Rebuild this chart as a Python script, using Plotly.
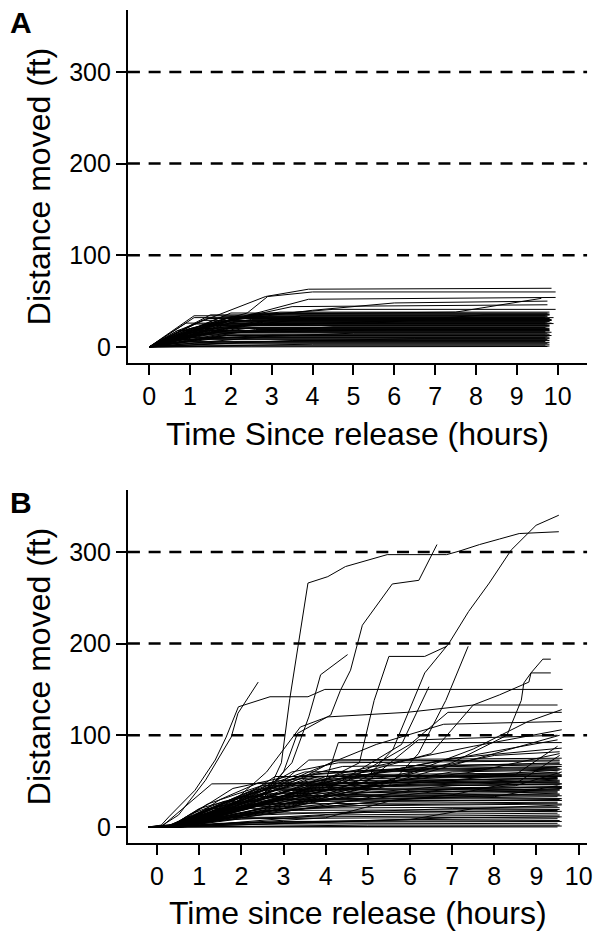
import plotly.graph_objects as go

FONT = "Arial, Liberation Sans, sans-serif"

# ---------------- Panel A data (hours, ft) ----------------
A_times = [
    [0, 0.71, 2.85, 3.9, 9.85], [0, 0.75, 2.4, 2.9, 4.0, 9.95], [0, 1.2, 3.9, 9.95],
    [0, 2.0, 3.0, 7.5, 9.6], [0, 1.8, 4.0, 6.0, 9.75], [0, 1.5, 3.5, 9.75],
    [0, 2.2, 4.5, 9.95], [0, 1.9, 3.2, 9.8], [0, 1.0, 2.6, 9.75], [0, 1.5, 9.8],
    [0, 0.9, 2.0, 9.75], [0, 1.4, 9.8], [0, 1.2, 2.5, 9.7], [0, 2.1, 9.8],
    [0, 1.6, 9.75], [0, 0.8, 3.0, 9.85], [0, 1.1, 9.7], [0, 2.3, 9.8], [0, 1.3, 9.75],
    [0, 0.9, 4.5, 9.8], [0, 1.7, 9.7], [0, 1.0, 9.8], [0, 2.6, 9.75], [0, 0.7, 9.8],
    [0, 1.5, 9.7], [0, 2.0, 9.85], [0, 0.8, 5.0, 9.75], [0, 1.2, 9.8], [0, 1.9, 9.7],
    [0, 0.6, 9.8], [0, 2.8, 9.75], [0, 1.0, 9.8], [0, 1.6, 9.7], [0, 0.5, 6.5, 9.8],
    [0, 1.3, 9.75], [0, 3.5, 9.8], [0, 0.9, 9.7], [0, 2.2, 9.8], [0, 1.1, 9.75],
    [0, 4.0, 9.8], [0, 0.8, 9.7], [0, 2.5, 9.8], [0, 9.75], [0, 1.8, 7.0, 9.8],
    [0, 2.4, 3.7, 9.7], [0, 1.0, 2.0, 9.85], [0, 0.7, 1.5, 9.75], [0, 1.2, 6.0, 9.8],
    [0, 1.4, 2.8, 9.7], [0, 0.6, 3.0, 9.8], [0, 1.1, 9.7], [0, 2.0, 9.75],
    [0, 1.8, 5.5, 8.2, 9.8], [0, 0.9, 2.5, 9.7], [0, 3.0, 9.85], [0, 1.8, 3.7],
    [0, 1.3, 2.4, 9.9], [0, 0.8, 1.9, 9.8],
    [0, 1.3, 9.85], [0, 0.9, 9.7], [0, 1.6, 9.8], [0, 2.2, 9.75], [0, 0.8, 9.8],
    [0, 1.4, 9.7], [0, 1.9, 9.85], [0, 1.1, 9.75], [0, 2.5, 9.8], [0, 0.7, 9.7],
    [0, 1.5, 4.0, 9.8], [0, 2.0, 9.9],
]
A_dist = [
    [0, 18, 55, 63, 64], [0, 17, 37, 55, 60, 60], [0, 20, 52, 54],
    [0, 30, 36, 38, 53], [0, 28, 40, 48, 50], [0, 25, 44, 46],
    [0, 33, 41, 41], [0, 31, 38, 38], [0, 20, 36, 36], [0, 35, 35],
    [0, 18, 33, 33], [0, 31, 31], [0, 20, 30, 30], [0, 28, 28],
    [0, 27, 27], [0, 14, 26, 26], [0, 25, 25], [0, 24, 24], [0, 23, 23],
    [0, 12, 22, 22], [0, 21, 21], [0, 20, 20], [0, 19, 19], [0, 18, 18],
    [0, 17, 17], [0, 16, 16], [0, 8, 15, 15], [0, 14, 14], [0, 13, 13],
    [0, 12, 12], [0, 11, 11], [0, 10, 10], [0, 9, 9], [0, 4, 9, 9],
    [0, 8, 8], [0, 7, 7], [0, 6, 6], [0, 5, 5], [0, 4, 4],
    [0, 3, 3], [0, 2, 2], [0, 1, 1], [0, 0.5], [0, 22, 30, 30],
    [0, 26, 34, 34], [0, 13, 29, 29], [0, 10, 24, 24], [0, 15, 19, 19],
    [0, 17, 27, 27], [0, 7, 13, 13], [0, 32, 32], [0, 37, 37],
    [0, 24, 26, 35, 35], [0, 11, 21, 21], [0, 30, 30], [0, 33, 33],
    [0, 22, 32, 32], [0, 15, 28, 28],
    [0, 29, 29], [0, 26, 26], [0, 23.5, 23.5], [0, 20.5, 20.5], [0, 17.5, 17.5],
    [0, 15.5, 15.5], [0, 12.5, 12.5], [0, 34, 34], [0, 36, 36], [0, 10.5, 10.5],
    [0, 20, 31, 31], [0, 25.5, 25.5],
]

# ---------------- Panel B data (hours, ft) ----------------
B_times = [
    [-0.2, 0.4, 1.2, 2.0, 2.7, 2.95, 3.15, 3.58, 4.05, 4.47, 5.46, 6.87, 7.18, 7.65, 8.12, 8.59, 9.53],
    [-0.2, 0.4, 1.5, 2.5, 3.0, 3.33, 4.12, 4.35, 4.59, 4.87, 5.58, 6.21, 6.64],
    [-0.2, 0.5, 1.5, 3.0, 4.0, 5.0, 5.6, 6.09, 6.35, 6.92, 7.39, 7.88, 8.4, 8.99, 9.53],
    [-0.2, 0.6, 2.0, 3.5, 4.8, 5.15, 5.5, 6.35, 6.87],
    [-0.2, 0.4, 1.5, 2.5, 3.2, 3.6, 3.76, 3.88, 4.52],
    [-0.2, 0.1, 0.28, 0.9, 1.38, 1.64, 1.93, 2.68, 3.58, 3.98, 9.62],
    [-0.2, 0.1, 0.51, 1.15, 1.76, 1.92, 2.4],
    [-0.2, 0.5, 3.0, 5.0, 7.0, 8.3, 8.64, 8.7, 8.87, 9.15, 9.34],
    [-0.2, 0.4, 1.5, 2.6, 3.4, 4.04, 5.93, 6.87, 7.5, 8.12, 8.82, 8.87, 9.34],
    [-0.2, 0.3, 2.0, 4.0, 5.8, 6.45],
    [-0.2, 0.5, 3.0, 5.5, 6.2, 6.85, 7.38],
    [-0.2, 0.4, 2.5, 4.5, 6.0, 6.9, 9.6],
    [-0.2, 0.3, 2.5, 4.5, 6.5, 7.5, 9.5],
    [-0.2, 0.5, 3.0, 5.5, 7.5, 8.8, 9.6],
    [-0.2, 0.3, 1.8, 3.6, 5.2, 6.8, 9.6],
    [-0.2, 0.3, 1.0, 1.5, 2.4, 9.55], [-0.2, 0.1, 1.3, 9.5],
    [-0.2, 0.3, 1.5, 3.0, 3.6, 9.6], [-0.2, 0.4, 2.0, 3.5, 4.2, 9.55],
    [-0.2, 0.3, 2.5, 4.0, 6.0, 9.6], [-0.2, 0.5, 3.0, 5.0, 7.0, 9.5],
    [-0.2, 0.3, 1.0, 2.0, 9.55], [-0.2, 0.4, 1.5, 3.0, 9.6],
    [-0.2, 0.2, 0.8, 2.2, 9.5], [-0.2, 0.3, 2.0, 4.5, 9.55],
    [-0.2, 0.5, 3.5, 6.0, 9.6], [-0.2, 0.3, 1.2, 9.5], [-0.2, 0.4, 2.5, 9.55],
    [-0.2, 0.3, 1.8, 9.6], [-0.2, 0.6, 4.0, 9.5], [-0.2, 0.3, 0.9, 9.55],
    [-0.2, 0.5, 2.0, 9.6], [-0.2, 0.3, 1.5, 6.0, 9.5], [-0.2, 0.4, 3.0, 9.55],
    [-0.2, 0.5, 2.0, 9.6], [-0.2, 0.3, 1.0, 9.5], [-0.2, 0.6, 5.0, 9.55],
    [-0.2, 0.4, 9.6], [-0.2, 9.5],
    [-0.2, 0.3, 2.0, 4.0, 5.5, 8.0, 9.55], [-0.2, 0.4, 2.5, 4.5, 7.0, 9.6],
    [-0.2, 0.3, 1.5, 3.5, 6.5, 9.5], [-0.2, 0.5, 3.0, 5.5, 8.0, 9.55],
    [-0.2, 0.4, 2.8, 4.5, 7.5, 9.6], [-0.2, 0.3, 1.8, 3.8, 5.0, 9.5],
    [-0.2, 0.3, 1.2, 2.8, 4.0, 9.55], [-0.2, 0.4, 2.2, 3.5, 9.6],
    [-0.2, 0.3, 1.6, 3.2, 5.5, 9.5], [-0.2, 0.5, 2.5, 5.0, 9.55],
    [-0.2, 0.3, 1.0, 3.0, 7.0, 9.6], [-0.2, 0.4, 2.0, 4.0, 9.5],
    [-0.2, 0.3, 1.4, 3.0, 9.55], [-0.2, 0.6, 3.5, 9.6],
    [-0.2, 0.3, 2.0, 5.0, 9.5], [-0.2, 0.5, 1.7, 7.0, 9.55],
    [-0.2, 0.3, 3.0, 6.5, 9.6], [-0.2, 0.4, 1.5, 4.0, 8.0, 9.5],
    [-0.2, 0.3, 2.0, 3.2, 4.3, 9.55], [-0.2, 0.5, 2.3, 3.4, 5.5, 9.6],
    [-0.2, 0.3, 0.7, 1.8, 3.1, 8.5, 9.5], [-0.2, 0.4, 3.5, 7.0, 8.6, 9.55],
    [-0.2, 0.3, 2.5, 4.0, 4.3, 9.6], [-0.2, 0.5, 3.0, 5.0, 6.2, 9.5],
    [-0.2, 0.3, 4.0, 5.5, 9.55], [-0.2, 0.4, 6.0, 7.5, 9.6],
    [-0.2, 0.3, 2.8, 8.0, 9.5], [-0.2, 0.2, 1.1, 2.5, 9.55],
    [-0.2, 0.3, 0.8, 1.6, 9.6], [-0.2, 0.4, 1.0, 5.0, 9.5],
    [-0.2, 0.3, 2.3, 3.0, 9.55], [-0.2, 0.5, 4.5, 9.6],
    [-0.2, 0.3, 1.9, 2.6, 6.0, 9.5], [-0.2, 0.4, 7.0, 9.55],
    [-0.2, 0.3, 1.3, 3.8, 9.6], [-0.2, 0.3, 1.0, 1.8, 2.8, 9.5],
    [-0.2, 0.4, 2.2, 3.6, 9.55], [-0.2, 0.3, 3.8, 5.2, 9.6],
    [-0.2, 0.3, 1.5, 2.5, 9.5], [-0.2, 0.2, 1.0, 2.0, 3.5, 9.55],
    [-0.2, 0.4, 2.0, 3.0, 9.6], [-0.2, 0.3, 1.2, 2.6, 4.5, 9.5],
    [-0.2, 0.5, 2.7, 4.0, 9.55], [-0.2, 0.3, 1.7, 2.9, 9.6],
    [-0.2, 0.4, 1.1, 2.4, 5.0, 9.5], [-0.2, 0.3, 2.1, 3.3, 6.5, 9.55],
    [-0.2, 0.2, 0.9, 2.0, 9.6], [-0.2, 0.4, 1.6, 4.2, 9.5],
    [-0.2, 0.3, 2.4, 5.5, 9.55], [-0.2, 0.5, 3.2, 4.5, 9.6],
    [-0.2, 0.3, 1.3, 2.3, 3.6, 9.5], [-0.2, 0.4, 2.6, 4.8, 7.5, 9.55],
    [-0.2, 0.3, 1.0, 2.7, 9.6], [-0.2, 0.3, 3.0, 5.8, 9.5],
    [-0.2, 0.4, 1.8, 3.0, 4.4, 9.55], [-0.2, 0.3, 2.0, 6.0, 8.5, 9.6],
]
B_dist = [
    [0, 2, 12, 28, 45, 70, 140, 266, 273, 284, 297, 297, 301, 308, 314, 320, 322],
    [0, 0, 12, 30, 60, 102, 122, 149, 171, 220, 265, 269, 308],
    [0, 2, 8, 20, 35, 55, 85, 138, 168, 200, 235, 266, 302, 329, 340],
    [0, 3, 20, 40, 70, 138, 186, 186, 197],
    [0, 3, 15, 35, 70, 120, 146, 166, 188],
    [0, 2, 11, 40, 73, 98, 131, 142, 142, 150, 150],
    [0, 1, 13, 51, 98, 124, 158],
    [0, 2, 25, 45, 70, 100, 138, 157, 168, 183, 183],
    [0, 0, 15, 60, 109, 120, 125, 130, 133, 144, 158, 168, 168],
    [0, 0, 15, 40, 90, 153],
    [0, 0, 20, 45, 80, 138, 197],
    [0, 0, 25, 50, 90, 125, 125],
    [0, 0, 25, 55, 80, 133, 133],
    [0, 0, 20, 50, 85, 115, 128],
    [0, 0, 22, 60, 90, 112, 115],
    [0, 0, 15, 30, 48, 48], [0, 0, 47, 49],
    [0, 0, 20, 50, 73, 75], [0, 0, 25, 55, 72, 73],
    [0, 0, 30, 55, 65, 68], [0, 0, 25, 45, 60, 62],
    [0, 0, 10, 33, 35], [0, 0, 12, 30, 31],
    [0, 0, 8, 25, 27], [0, 0, 15, 38, 40],
    [0, 0, 20, 40, 44], [0, 0, 20, 22], [0, 0, 18, 19],
    [0, 0, 15, 17], [0, 0, 13, 15], [0, 0, 10, 13],
    [0, 0, 9, 11], [0, 0, 4, 8, 9], [0, 0, 6, 7],
    [0, 0, 5, 6], [0, 0, 3, 4], [0, 0, 2, 2],
    [0, 0, 1], [0, 0],
    [0, 0, 20, 45, 55, 78, 82], [0, 0, 28, 52, 75, 86],
    [0, 0, 18, 45, 70, 95], [0, 0, 22, 48, 80, 100],
    [0, 0, 35, 60, 88, 106], [0, 0, 30, 58, 62, 65],
    [0, 0, 25, 50, 55, 58], [0, 0, 30, 52, 55],
    [0, 0, 22, 40, 50, 53], [0, 0, 25, 45, 51],
    [0, 0, 12, 30, 45, 47], [0, 0, 20, 35, 38],
    [0, 0, 22, 34, 36], [0, 0, 28, 29],
    [0, 0, 15, 24, 26], [0, 0, 12, 20, 21],
    [0, 0, 20, 38, 42], [0, 0, 18, 40, 55, 60],
    [0, 0, 30, 60, 70, 72], [0, 0, 35, 56, 63, 66],
    [0, 0, 10, 42, 55, 57, 88], [0, 0, 20, 35, 50, 78],
    [0, 0, 25, 50, 92, 92], [0, 0, 30, 50, 95, 100],
    [0, 0, 10, 28, 30], [0, 0, 8, 20, 24],
    [0, 0, 30, 33, 45], [0, 0, 18, 40, 41],
    [0, 0, 14, 28, 29], [0, 0, 6, 16, 18],
    [0, 0, 38, 45, 46], [0, 0, 33, 34],
    [0, 0, 24, 36, 38, 39], [0, 0, 10, 11],
    [0, 0, 16, 55, 56], [0, 0, 10, 25, 55, 55],
    [0, 0, 20, 45, 62], [0, 0, 40, 60, 63],
    [0, 0, 25, 45, 52], [0, 0, 15, 35, 60, 64],
    [0, 0, 25, 40, 43], [0, 0, 18, 38, 57, 59],
    [0, 0, 30, 48, 50], [0, 0, 28, 41, 44],
    [0, 0, 12, 30, 48, 54], [0, 0, 30, 47, 66, 70],
    [0, 0, 12, 22, 25], [0, 0, 20, 30, 33],
    [0, 0, 35, 45, 49], [0, 0, 40, 54, 57],
    [0, 0, 20, 40, 50, 53], [0, 0, 28, 45, 60, 80],
    [0, 0, 20, 42, 47], [0, 0, 18, 30, 37],
    [0, 0, 30, 50, 66, 69], [0, 0, 22, 38, 45, 60],
]

y_ticks = [0, 100, 200, 300]
x_ticks = list(range(0, 11))
ref_lines = [100, 200, 300]


def joined(times, dists):
    xs, ys = [], []
    for t, d in zip(times, dists):
        xs += list(t) + [None]
        ys += list(d) + [None]
    return xs, ys


fig = go.Figure()
ax, ay = joined(A_times, A_dist)
bx, by = joined(B_times, B_dist)
fig.add_trace(go.Scatter(x=ax, y=ay, mode="lines", line=dict(color="black", width=1),
                         xaxis="x", yaxis="y", showlegend=False, hoverinfo="skip"))
fig.add_trace(go.Scatter(x=bx, y=by, mode="lines", line=dict(color="black", width=1),
                         xaxis="x2", yaxis="y2", showlegend=False, hoverinfo="skip"))

H = 934.0
W = 600.0
xdom = [129 / W, 592 / W]
axis_common = dict(showline=True, linecolor="black", linewidth=2, ticks="outside",
                   ticklen=10, tickwidth=2, tickcolor="black", showgrid=False,
                   zeroline=False, tickfont=dict(family=FONT, size=25, color="black"))

fig.update_layout(
    width=600, height=934, margin=dict(l=0, r=0, t=0, b=0),
    paper_bgcolor="white", plot_bgcolor="white",
    xaxis=dict(domain=xdom, range=[-0.52, 10.72], anchor="y", tickvals=x_ticks, **axis_common),
    yaxis=dict(domain=[1 - 363 / H, 1 - 10 / H], range=[-17.5, 367.5], anchor="x",
               tickvals=y_ticks, **axis_common),
    xaxis2=dict(domain=xdom, range=[-0.69, 10.2], anchor="y2", tickvals=x_ticks, **axis_common),
    yaxis2=dict(domain=[1 - 843 / H, 1 - 490 / H], range=[-17.5, 367.5], anchor="x2",
                tickvals=y_ticks, **axis_common),
)

shapes = []
for xr, yr in (("x domain", "y"), ("x2 domain", "y2")):
    for v in ref_lines:
        shapes.append(dict(type="line", xref=xr, yref=yr, x0=0, x1=1, y0=v, y1=v,
                           line=dict(color="black", width=2.5, dash="12px,8.7px"), layer="above"))
fig.update_layout(shapes=shapes)

ann = []
def add_text(text, px, py, size, bold=False, angle=0):
    ann.append(dict(text=("<b>%s</b>" % text) if bold else text, x=px / W, y=1 - py / H,
                    xref="paper", yref="paper", xanchor="center", yanchor="middle",
                    showarrow=False, textangle=angle,
                    font=dict(family=FONT, size=size, color="black")))

add_text("A", 21.5, 22.5, 30, bold=True)
add_text("B", 21.5, 503, 30, bold=True)
add_text("Distance moved (ft)", 39, 186.5, 32, angle=-90)
add_text("Distance moved (ft)", 39, 666.5, 32, angle=-90)
add_text("Time Since release (hours)", 360, 434, 32)
add_text("Time since release (hours)", 361, 913, 32)
fig.update_layout(annotations=ann)

fig.write_html("out.html")
